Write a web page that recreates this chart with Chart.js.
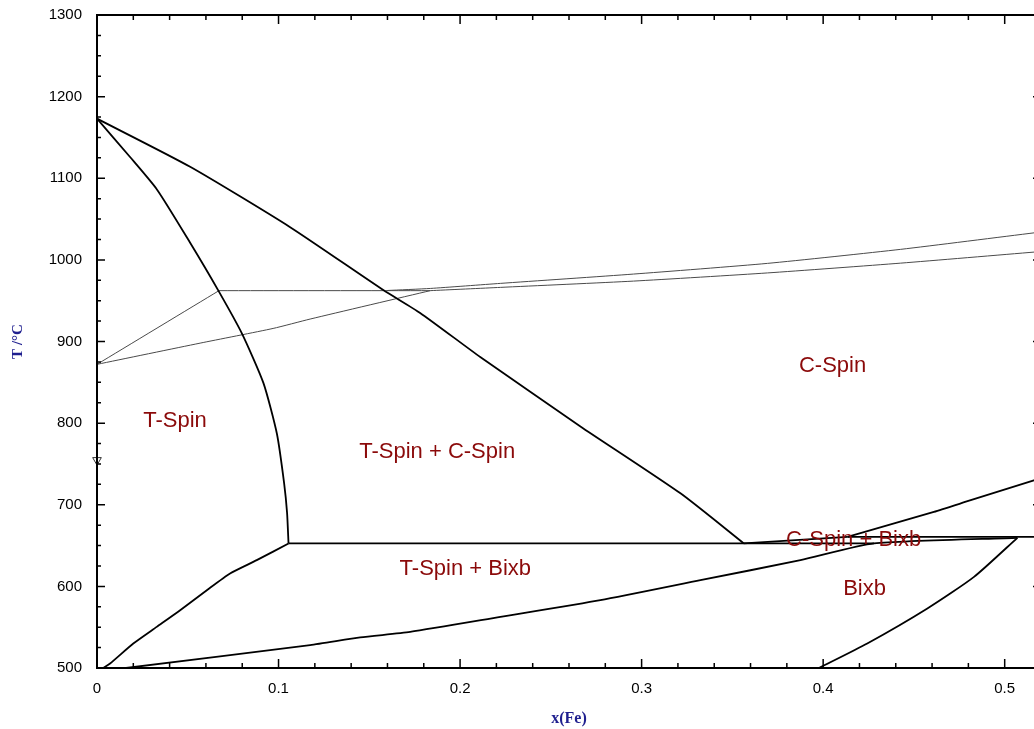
<!DOCTYPE html>
<html>
<head>
<meta charset="utf-8">
<script src="https://cdn.jsdelivr.net/npm/chart.js@4/dist/chart.umd.min.js"></script>
<style>
  html, body { margin: 0; padding: 0; background: #ffffff; overflow: hidden; }
  #wrap { width: 1034px; height: 729px; overflow: hidden; position: relative; }
</style>
</head>
<body>
<div id="wrap">
  <canvas id="phaseChart" width="1050" height="729"></canvas>
</div>
<script>
// 상태도 데이터 (x(Fe), T/°C) - 그림에서 읽은 값

// 축 눈금
const xTicks = [0, 0.1, 0.2, 0.3, 0.4, 0.5];
const yTicks = [500, 600, 700, 800, 900, 1000, 1100, 1200, 1300];

// T-Spin / T-Spin + C-Spin 경계
const tSpinEdgeX = [0, 0.0182, 0.0331, 0.0513, 0.0667, 0.0798, 0.0917, 0.0991, 0.1031, 0.1047, 0.1055];
const tSpinEdgeT = [1173, 1126, 1086, 1021, 963, 910, 849, 787, 726, 690, 652.6];

// C-Spin / T-Spin + C-Spin 경계
const cSpinEdgeX = [0, 0.0513, 0.1064, 0.1577, 0.178, 0.2111, 0.2663, 0.3214, 0.3563];
const cSpinEdgeT = [1173, 1114, 1040, 963, 935, 881, 796, 714, 652.6];

// 652도 삼상선
const tieLowX = [0.1055, 0.428];
const tieLowT = [652.6, 652.6];

// T-Spin / T-Spin + Bixb 경계
const tSpinBixbX = [0.0033, 0.0072, 0.02, 0.0329, 0.0458, 0.0605, 0.0733, 0.088, 0.1055];
const tSpinBixbT = [500, 505.5, 530, 550.4, 570.8, 595.3, 615.8, 632.1, 652.6];

// Bixb 아래쪽 경계
const bixbLowX = [0.016, 0.1174, 0.145, 0.1725, 0.2222, 0.2773, 0.3324, 0.3875, 0.428, 0.507];
const bixbLowT = [500, 528, 537.4, 544.3, 562.6, 583.1, 607.6, 632.1, 652.6, 659.5];

// Bixb 오른쪽 경계
const bixbRightX = [0.3977, 0.4243, 0.4574, 0.4831, 0.507];
const bixbRightT = [500, 530, 572.9, 611.6, 659.5];

// C-Spin / C-Spin + Bixb 경계
const cSpinBixbX = [0.3563, 0.4134];
const cSpinBixbT = [652.6, 660.7];

// 660도 수평선
const tieHighX = [0.4134, 0.52];
const tieHighT = [660.7, 660.7];

// C-Spin 위쪽 경계 (오른쪽)
const cSpinUpperX = [0.4134, 0.461, 0.4813, 0.5165];
const cSpinUpperT = [660.7, 691.3, 705.6, 730.1];

// 가는 선들 (자기 전이)
const thinAX = [0, 0.0672];
const thinAT = [872, 962.3];
const thinFlatX = [0.0672, 0.1836];
const thinFlatT = [962.3, 962.3];
const thinBX = [0, 0.0568, 0.097, 0.1174, 0.1836];
const thinBT = [872, 898, 916, 927.5, 962.3];
const thinUX = [0.1599, 0.1836, 0.2222, 0.2955, 0.3693, 0.4427, 0.5165];
const thinUT = [962.5, 965, 971.2, 982.6, 995.7, 1012.9, 1033.2];
const thinLX = [0.1836, 0.2222, 0.2955, 0.3693, 0.4427, 0.5165];
const thinLT = [962.3, 966.3, 974, 984, 996, 1009.6];

// 표시 삼각형
const markerX = [0];
const markerT = [754.7];

// 영역 이름
const regionNames = ["T-Spin", "T-Spin + C-Spin", "C-Spin", "T-Spin + Bixb", "C-Spin + Bixb", "Bixb"];
const regionX = [0.043, 0.1874, 0.4052, 0.2029, 0.4168, 0.4228];
const regionT = [802.5, 764.5, 869.9, 621, 656.6, 596.6];

Chart.defaults.font.family = "'Liberation Sans', Arial, sans-serif";

// x, T 배열을 점 목록으로
function toPoints(xs, ts) {
  return xs.map((v, i) => ({ x: v, y: ts[i] }));
}

function thickLine(xs, ts) {
  return {
    data: toPoints(xs, ts),
    showLine: true,
    borderColor: "#000000",
    borderWidth: 1.8,
    tension: 0.2,
    pointRadius: 0,
    fill: false
  };
}

function thinLine(xs, ts) {
  return {
    data: toPoints(xs, ts),
    showLine: true,
    borderColor: "#4a4a4a",
    borderWidth: 1,
    tension: 0.2,
    pointRadius: 0,
    fill: false
  };
}

// 테두리와 안쪽 눈금 그리기
const frameTicks = {
  id: "frameTicks",
  afterDatasetsDraw(chart) {
    const { ctx, chartArea: a, scales } = chart;
    const xs = scales.x;
    const ys = scales.y;
    ctx.save();
    ctx.strokeStyle = "#000000";
    ctx.lineWidth = 2;
    ctx.strokeRect(a.left, a.top, a.right - a.left, a.bottom - a.top);

    ctx.lineWidth = 1.5;
    ctx.beginPath();
    for (let i = 0; i <= 26; i++) {
      const px = xs.getPixelForValue(i * 0.02);
      const len = i % 5 === 0 ? 9 : 5;
      ctx.moveTo(px, a.bottom);
      ctx.lineTo(px, a.bottom - len);
      ctx.moveTo(px, a.top);
      ctx.lineTo(px, a.top + len);
    }
    for (let v = 500; v <= 1300; v += 25) {
      const py = ys.getPixelForValue(v);
      const len = v % 100 === 0 ? 8 : 4;
      ctx.moveTo(a.left, py);
      ctx.lineTo(a.left + len, py);
      ctx.moveTo(a.right, py);
      ctx.lineTo(a.right - len, py);
    }
    ctx.stroke();

    // 영역 이름
    ctx.fillStyle = "#8b0a0a";
    ctx.font = "22px 'Liberation Sans', Arial, sans-serif";
    ctx.textAlign = "center";
    ctx.textBaseline = "middle";
    regionNames.forEach((name, i) => {
      ctx.fillText(name, xs.getPixelForValue(regionX[i]), ys.getPixelForValue(regionT[i]));
    });
    ctx.restore();
  }
};

window.addEventListener("DOMContentLoaded", () => {
  const ctx = document.getElementById("phaseChart");

  new Chart(ctx, {
    type: "scatter",
    data: {
      datasets: [
        thickLine(tSpinEdgeX, tSpinEdgeT),
        thickLine(cSpinEdgeX, cSpinEdgeT),
        thickLine(tieLowX, tieLowT),
        thickLine(tSpinBixbX, tSpinBixbT),
        thickLine(bixbLowX, bixbLowT),
        thickLine(bixbRightX, bixbRightT),
        thickLine(cSpinBixbX, cSpinBixbT),
        thickLine(tieHighX, tieHighT),
        thickLine(cSpinUpperX, cSpinUpperT),
        thinLine(thinAX, thinAT),
        thinLine(thinFlatX, thinFlatT),
        thinLine(thinBX, thinBT),
        thinLine(thinUX, thinUT),
        thinLine(thinLX, thinLT),
        {
          data: toPoints(markerX, markerT),
          pointStyle: "triangle",
          rotation: 180,
          pointRadius: 5,
          borderColor: "#333333",
          borderWidth: 1,
          backgroundColor: "#ffffff",
          clip: false
        }
      ]
    },
    options: {
      responsive: false,
      animation: false,
      layout: {
        padding: { left: 0, top: 15, right: 9, bottom: 0 }
      },
      plugins: {
        legend: { display: false },
        tooltip: { enabled: false }
      },
      scales: {
        x: {
          type: "linear",
          min: 0,
          max: 0.52,
          grid: { display: false, drawTicks: false },
          border: { display: false },
          afterBuildTicks: (scale) => {
            scale.ticks = xTicks.map((v) => ({ value: v }));
          },
          afterFit: (scale) => {
            scale.height = 61;
            scale.paddingLeft = 0;
            scale.paddingRight = 0;
          },
          ticks: {
            color: "#000000",
            padding: 12,
            autoSkip: false,
            maxRotation: 0,
            font: { size: 15 },
            callback: (v) => String(v)
          },
          title: {
            display: true,
            text: "x(Fe)",
            color: "#1f1f8f",
            padding: { top: 0, bottom: 1 },
            font: { family: "'Liberation Serif', 'Times New Roman', serif", size: 16, weight: "bold" }
          }
        },
        y: {
          type: "linear",
          min: 500,
          max: 1300,
          grid: { display: false, drawTicks: false },
          border: { display: false },
          afterBuildTicks: (scale) => {
            scale.ticks = yTicks.map((v) => ({ value: v }));
          },
          afterFit: (scale) => {
            scale.width = 97;
            scale.paddingTop = 0;
            scale.paddingBottom = 0;
          },
          ticks: {
            color: "#000000",
            padding: 15,
            autoSkip: false,
            font: { size: 15 },
            callback: (v) => String(v)
          },
          title: {
            display: true,
            text: "T /°C",
            color: "#1f1f8f",
            padding: { top: 9, bottom: 0 },
            font: { family: "'Liberation Serif', 'Times New Roman', serif", size: 15, weight: "bold" }
          }
        }
      }
    },
    plugins: [frameTicks]
  });
});
</script>
</body>
</html>
